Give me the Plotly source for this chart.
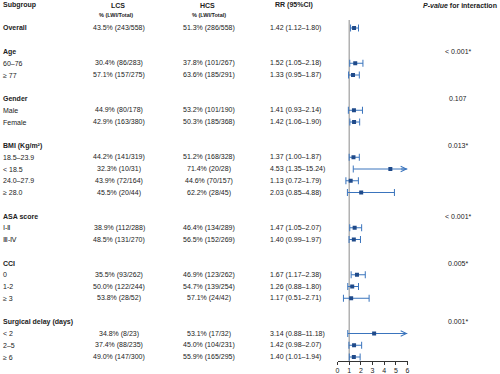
import plotly.graph_objects as go

# ---------------- data ----------------
data_labels = ["Overall", "60–76", "≥ 77", "Male", "Female",
               "18.5–23.9", "< 18.5", "24.0–27.9", "≥ 28.0",
               "Ⅰ-Ⅱ", "Ⅲ-Ⅳ", "0", "1-2", "≥ 3", "< 2", "2–5", "≥ 6"]
data_rows = [0, 3, 4, 7, 8, 11, 12, 13, 14, 17, 18, 21, 22, 23, 26, 27, 28]

lcs_pct = [43.5, 30.4, 57.1, 44.9, 42.9, 44.2, 32.3, 43.9, 45.5, 38.9, 48.5, 35.5, 50.0, 53.8, 34.8, 37.4, 49.0]
lcs_events = [243, 86, 157, 80, 163, 141, 10, 72, 20, 112, 131, 93, 122, 28, 8, 88, 147]
lcs_total = [558, 283, 275, 178, 380, 319, 31, 164, 44, 288, 270, 262, 244, 52, 23, 235, 300]

hcs_pct = [51.3, 37.8, 63.6, 53.2, 50.3, 51.2, 71.4, 44.6, 62.2, 46.4, 56.5, 46.9, 54.7, 57.1, 53.1, 45.0, 55.9]
hcs_events = [286, 101, 185, 101, 185, 168, 20, 70, 28, 134, 152, 123, 139, 24, 17, 104, 165]
hcs_total = [558, 267, 291, 190, 368, 328, 28, 157, 45, 289, 269, 262, 254, 42, 32, 231, 295]

rr = [1.42, 1.52, 1.33, 1.41, 1.42, 1.37, 4.53, 1.13, 2.03, 1.47, 1.40, 1.67, 1.26, 1.17, 3.14, 1.42, 1.40]
rr_lo = [1.12, 1.05, 0.95, 0.93, 1.06, 1.00, 1.35, 0.72, 0.85, 1.05, 0.99, 1.17, 0.88, 0.51, 0.88, 0.98, 1.01]
rr_hi = [1.80, 2.18, 1.87, 2.14, 1.90, 1.87, 15.24, 1.79, 4.88, 2.07, 1.97, 2.38, 1.80, 2.71, 11.18, 2.07, 1.94]

group_names = ["Age", "Gender", "BMI (Kg/m²)", "ASA score", "CCI", "Surgical delay (days)"]
group_rows = [2, 6, 10, 16, 20, 25]
p_values = ["< 0.001*", "0.107", "0.013*", "< 0.001*", "0.005*", "0.001*"]

x_ticks = [0, 1, 2, 3, 4, 5, 6]
x_max = 6

# ---------------- style ----------------
FONT = "Liberation Sans, Arial, sans-serif"
TXT = "#222222"
MARK = "#1f4a8a"
LINE = "#3a74bd"
FS = 7

W, H = 500, 374
fig = go.Figure()

# CI lines (clipped at the axis maximum)
cx, cy = [], []
for r, lo, hi in zip(data_rows, rr_lo, rr_hi):
    cx += [lo, min(hi, x_max), None]
    cy += [r, r, None]
fig.add_trace(go.Scatter(x=cx, y=cy, mode="lines", line=dict(color=LINE, width=1),
                         hoverinfo="skip", showlegend=False))
# left caps
fig.add_trace(go.Scatter(x=rr_lo, y=data_rows, mode="markers",
                         marker=dict(symbol="line-ns", size=5, line=dict(color=LINE, width=1)),
                         hoverinfo="skip", showlegend=False))
# right caps (only when inside the axis)
rx = [hi for hi in rr_hi if hi <= x_max]
ry = [r for r, hi in zip(data_rows, rr_hi) if hi <= x_max]
fig.add_trace(go.Scatter(x=rx, y=ry, mode="markers",
                         marker=dict(symbol="line-ns", size=5, line=dict(color=LINE, width=1)),
                         hoverinfo="skip", showlegend=False))
# point estimates
fig.add_trace(go.Scatter(x=rr, y=data_rows, mode="markers",
                         marker=dict(symbol="square", size=4, color=MARK),
                         showlegend=False))

# arrows for CIs exceeding the axis
for r, hi in zip(data_rows, rr_hi):
    if hi > x_max:
        fig.add_annotation(x=x_max, y=r, xref="x", yref="y", ax=-8, ay=0,
                           showarrow=True, arrowhead=5, arrowsize=1.1, arrowwidth=1,
                           arrowcolor=LINE, text="")

# reference line at RR = 1
y_dom = [13 / H, 1 - 20 / H]
fig.add_shape(type="line", xref="x", yref="paper", x0=1, x1=1, y0=y_dom[0], y1=y_dom[1],
              line=dict(color="#8a8a8a", width=1), layer="below")

def txt(x, y, s, anchor="left", bold=False, size=FS, yref="y"):
    fig.add_annotation(x=x, y=y, xref="paper", yref=yref, text=("<b>%s</b>" % s) if bold else s,
                       showarrow=False, xanchor=anchor, yanchor="middle",
                       font=dict(family=FONT, size=size, color=TXT))

# headers
hy = 1 - 5 / H
txt(1 / W, hy, "Subgroup", bold=True, yref="paper")
txt(118 / W, hy, "LCS", anchor="center", bold=True, yref="paper")
txt(207 / W, hy, "HCS", anchor="center", bold=True, yref="paper")
txt(116 / W, 1 - 15 / H, "% (LWI/Total)", anchor="center", bold=True, size=5.5, yref="paper")
txt(209 / W, 1 - 15 / H, "% (LWI/Total)", anchor="center", bold=True, size=5.5, yref="paper")
txt(294 / W, hy, "RR (95%CI)", anchor="center", bold=True, yref="paper")
txt(499 / W, hy, "<b><i>P-value</i> for interaction</b>", anchor="right", yref="paper")

# group headers and p-values
for g, r, p in zip(group_names, group_rows, p_values):
    txt(1 / W, r, g, bold=True)
    txt(458 / W, r, p, anchor="center")

# data rows
for i, (lab, r) in enumerate(zip(data_labels, data_rows)):
    txt(1 / W, r, lab, bold=(lab == "Overall"))
    txt(119 / W, r, "%.1f%% (%d/%d)" % (lcs_pct[i], lcs_events[i], lcs_total[i]), anchor="center")
    txt(208.5 / W, r, "%.1f%% (%d/%d)" % (hcs_pct[i], hcs_events[i], hcs_total[i]), anchor="center")
    txt(268 / W, r, "%.2f (%.2f–%.2f)" % (rr[i], rr_lo[i], rr_hi[i]), anchor="left")

row_px = 11.75
fig.update_layout(
    width=W, height=H,
    margin=dict(l=0, r=0, t=0, b=0),
    paper_bgcolor="white", plot_bgcolor="white",
    xaxis=dict(domain=[337.5 / W, 407.5 / W], range=[0, x_max], tickvals=x_ticks,
               showgrid=False, zeroline=False, showline=True, linecolor="#333333", linewidth=1,
               ticks="outside", ticklen=3, tickcolor="#333333", tickwidth=1,
               tickfont=dict(family=FONT, size=7, color=TXT), automargin=False),
    yaxis=dict(domain=y_dom, range=[(361 - 28) / row_px, (20 - 28) / row_px],
               visible=False, showgrid=False, zeroline=False, automargin=False),
)

fig.write_html("out.html", config={"displayModeBar": False},
               post_script="document.body.style.margin='0px';document.body.style.overflow='hidden';")
